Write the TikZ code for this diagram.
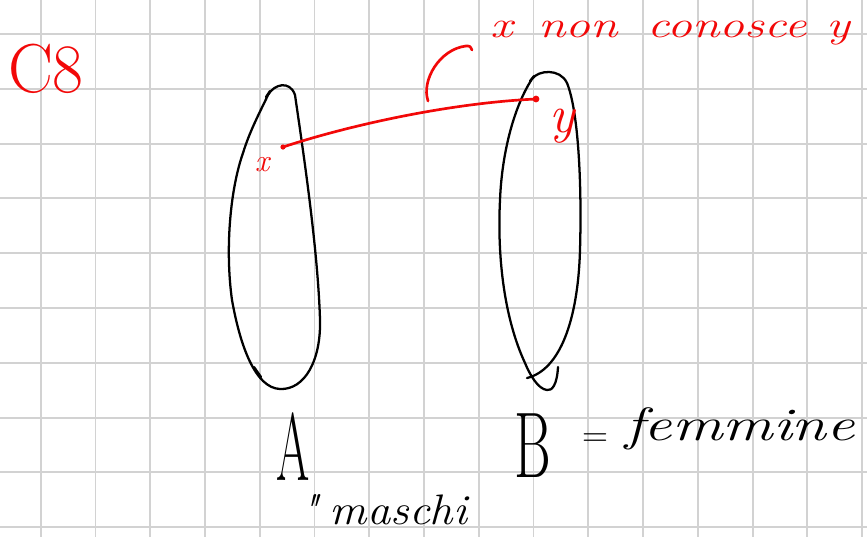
\documentclass[tikz,border=0pt]{standalone}
\usepackage{fontspec}
\definecolor{penred}{RGB}{242,8,8}
\definecolor{gridgray}{RGB}{210,210,210}
\begin{document}
\begin{tikzpicture}[x=0.75pt,y=-0.75pt,
  gridline/.style={draw=gridgray, line width=1.4pt},
  blackpen/.style={draw=black, line width=1.7pt, line cap=round, line join=round},
  redpen/.style={draw=penred, line width=2pt, line cap=round, line join=round},
  redtext/.style={text=penred, inner sep=0pt, outer sep=0pt},
  blacktext/.style={text=black, inner sep=0pt, outer sep=0pt}]
\useasboundingbox (0,0) rectangle (867,537);
\fill[white] (0,0) rectangle (867,537);
% grid paper
\foreach \k in {0,...,15} \draw[gridline] ({40.7+54.76*\k},0) -- ({40.7+54.76*\k},537);
\foreach \k in {0,...,9} \draw[gridline] (0,{34+54.8*\k}) -- (867,{34+54.8*\k});

% set A
\draw[blackpen] (268,95) .. controls (274,84) and (290,80) .. (295,95)
  .. controls (303,150) and (318,250) .. (320,320)
  .. controls (321,360) and (305,390) .. (280,389)
  .. controls (255,388) and (240,345) .. (232,300)
  .. controls (225,250) and (230,190) .. (243,153)
  .. controls (250,130) and (262,108) .. (268,95);
\draw[blackpen] (266,97) -- (270,91);
\draw[blackpen] (254,367) -- (261,377);

% set B
\draw[blackpen] (558,367) .. controls (557,385) and (552,391) .. (547,390)
  .. controls (538,389) and (530,375) .. (525,363)
  .. controls (505,320) and (497,260) .. (500,200)
  .. controls (502,150) and (515,105) .. (532,79)
  .. controls (538,70) and (560,68) .. (567,83)
  .. controls (578,110) and (582,180) .. (580,250)
  .. controls (578,320) and (560,370) .. (527,378);
\draw[blackpen] (530,81) -- (534,76);

% red relation
\coordinate (xp) at (283,147);
\coordinate (yp) at (536,99);
\draw[redpen] (xp) .. controls (350,125) and (450,103) .. (yp);
\fill[penred] (xp) circle (2.6);
\fill[penred] (yp) circle (3.4);
\draw[redpen] (428,101) .. controls (421,80) and (440,49) .. (466,46) .. controls (470,46) .. (472,50);

% texts
\node[redtext, anchor=base west, font=\fontsize{52}{52}\selectfont] (c8) at (8,92) {\scalebox{0.97}[1]{C8}};
\node[redtext, anchor=base west, font=\fontsize{28}{28}\selectfont\itshape] (claim) at (490,37) {\scalebox{1.33}[1]{x \hspace{5pt}non \hspace{7pt}conosce \hspace{1.5pt}y}};
\node[redtext, anchor=base, font=\fontsize{24}{24}\selectfont\itshape] (xl) at (262,171) {x};
\node[redtext, anchor=base, font=\fontsize{40}{40}\selectfont\itshape] (yl) at (562,132) {y};
\node[blacktext, anchor=base, font=\fontsize{72}{72}\selectfont] (la) at (293,480) {\scalebox{0.5}[1]{A}};
\node[blacktext, anchor=base, font=\fontsize{70}{70}\selectfont] (lb) at (533,477) {\scalebox{0.6}[1]{B}};
\node[blacktext, anchor=center, font=\fontsize{27}{27}\selectfont] (eq) at (595,440) {=};
\node[blacktext, anchor=base west, font=\fontsize{35}{35}\selectfont\itshape] (fem) at (625,440) {\scalebox{1.35}[1]{femmine}};
\node[blacktext, anchor=base west, font=\fontsize{32}{32}\selectfont\itshape] (mas) at (300,524) {\scalebox{1.09}[1]{\textquotedbl\hspace{-3pt} maschi}};
\end{tikzpicture}
\end{document}
